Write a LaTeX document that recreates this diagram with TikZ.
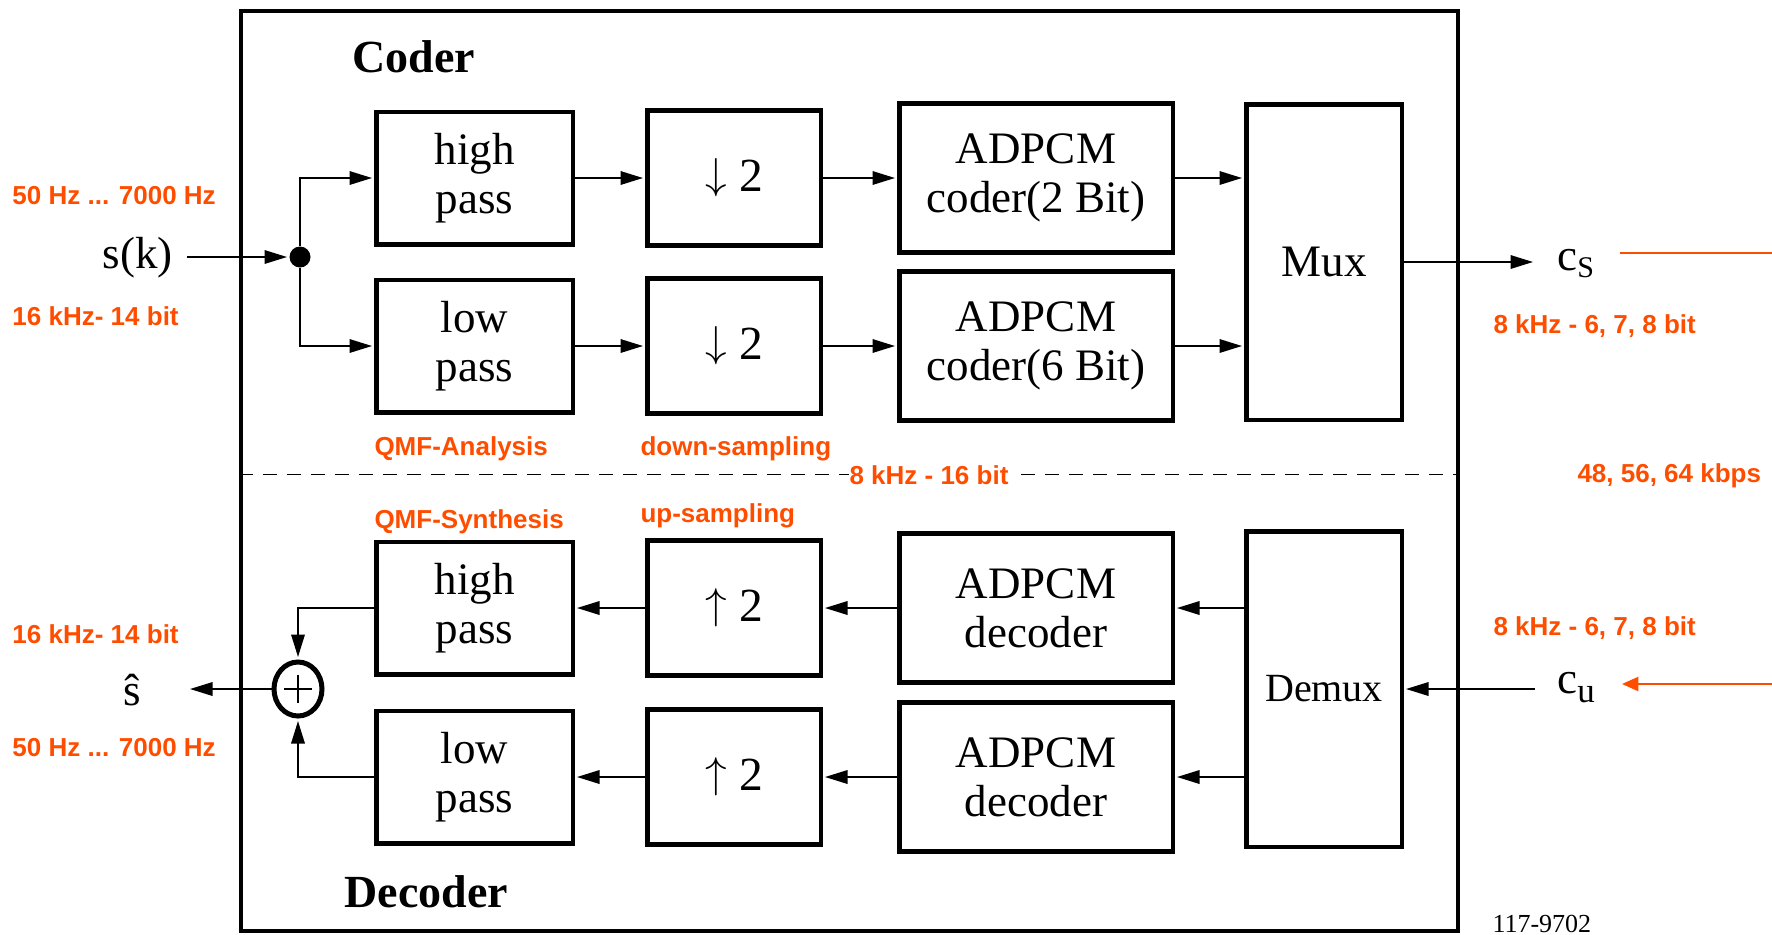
\documentclass[tikz,border=0pt]{standalone}
\usepackage{fontspec}
\setmainfont{Liberation Serif}
\newfontfamily\lsans{Liberation Sans}
\usetikzlibrary{arrows.meta,shapes.geometric}
\definecolor{org}{RGB}{255,77,0}
\begin{document}
\begin{tikzpicture}[x=0.4pt,y=-0.4pt,
  box/.style={draw,line width=1.8pt,inner sep=0pt,align=center,font=\fontsize{18pt}{19.6pt}\selectfont},
  filt/.style={box,minimum width=78.6pt,minimum height=53pt},
  rate/.style={box,minimum width=69.4pt,minimum height=54pt},
  adp/.style={box,minimum width=109.4pt,minimum height=59.6pt},
  mx/.style={box,minimum width=62.2pt,minimum height=126.2pt},
  conn/.style={line width=0.7pt},
  arr/.style={conn,-{Triangle[length=9pt,width=5.4pt]},shorten >=0.8pt},
  lbl/.style={text=org,font=\lsans\bfseries\fontsize{10.4pt}{12pt}\selectfont,inner sep=0pt,anchor=base west},
  sig/.style={font=\fontsize{18pt}{19.6pt}\selectfont,inner ysep=0pt},
  ttl/.style={font=\bfseries\fontsize{18.4pt}{20pt}\selectfont,inner sep=0pt,anchor=base west}
]
\useasboundingbox (0,0) rectangle (1772,934);

% frame
\node[draw,line width=1.8pt,minimum width=486.8pt,minimum height=368pt,inner sep=0pt] (frame) at (849.5,471) {};
\node[ttl] (coder) at (352,72) {Coder};
\node[ttl] (decoder) at (344,907) {Decoder};

% coder
\node[filt] (hp1) at (474.5,178) {high\\pass};
\node[rate] (ds1) at (734,178) {$\downarrow$\;\raisebox{-1pt}{\fontsize{19pt}{20pt}\selectfont 2}};
\node[adp] (co1) at (1036,178) {ADPCM\\coder(2 Bit)};
\node[filt] (lp1) at (474.5,346) {low\\pass};
\node[rate] (ds2) at (734,346) {$\downarrow$\;\raisebox{-1pt}{\fontsize{19pt}{20pt}\selectfont 2}};
\node[adp] (co2) at (1036,346) {ADPCM\\coder(6 Bit)};
\node[mx] (mux) at (1324,262) {Mux};

% decoder
\node[filt] (hp2) at (474.5,608) {high\\pass};
\node[rate] (us1) at (734,608) {$\uparrow$\;\raisebox{-1pt}{\fontsize{19pt}{20pt}\selectfont 2}};
\node[adp] (de1) at (1036,608) {ADPCM\\decoder};
\node[filt] (lp2) at (474.5,777) {low\\pass};
\node[rate] (us2) at (734,777) {$\uparrow$\;\raisebox{-1pt}{\fontsize{19pt}{20pt}\selectfont 2}};
\node[adp] (de2) at (1036,777) {ADPCM\\decoder};
\node[mx,font=\fontsize{16pt}{18pt}\selectfont] (demux) at (1324,689) {Demux};

% signals
\node[circle,fill,inner sep=0pt,minimum size=8.4pt] (dot) at (300,257) {};
\node[sig,anchor=base east,inner xsep=5.6pt] (sk) at (187,268) {s(k)};
\node[sig,anchor=base west,inner xsep=8.8pt] (cs) at (1535,270) {c\raisebox{-2.8pt}{\fontsize{12pt}{14pt}\selectfont S}};
\node[sig,anchor=base west,inner xsep=8.8pt] (cu) at (1535,693) {c\raisebox{-3.6pt}{\fontsize{14pt}{16pt}\selectfont u}};
\node[ellipse,draw,line width=2pt,minimum width=19.2pt,minimum height=21.6pt,inner sep=0pt] (add) at (298,689) {};
\node[sig,anchor=base east,inner xsep=18.4pt] (shat) at (188,705) {ŝ};
\draw[conn] ([xshift=-5.6pt]add.center) -- ([xshift=5.6pt]add.center);
\draw[conn] ([yshift=-5.6pt]add.center) -- ([yshift=5.6pt]add.center);

% coder connectors
\draw[arr] (sk.east |- dot) -- (dot);
\draw[arr] (dot) |- (hp1.west);
\draw[arr] (dot) |- (lp1.west);
\draw[arr] (hp1.east) -- (ds1.west);
\draw[arr] (ds1.east) -- (co1.west);
\draw[arr] (lp1.east) -- (ds2.west);
\draw[arr] (ds2.east) -- (co2.west);
\draw[arr] (co1.east) -- (co1.east -| mux.west);
\draw[arr] (co2.east) -- (co2.east -| mux.west);
\draw[arr] (mux.east) -- (mux.east -| cs.west);

% decoder connectors
\draw[arr] (cu.west |- demux.east) -- (demux.east);
\draw[arr] (de1.east -| demux.west) -- (de1.east);
\draw[arr] (de2.east -| demux.west) -- (de2.east);
\draw[arr] (de1.west) -- (us1.east);
\draw[arr] (de2.west) -- (us2.east);
\draw[arr] (us1.west) -- (hp2.east);
\draw[arr] (us2.west) -- (lp2.east);
\draw[arr,shorten >=1pt] (hp2.west) -| (add.north);
\draw[arr,shorten >=1pt] (lp2.west) -| (add.south);
\draw[arr] (add.west) -- (add.west -| shat.east);

% orange external lines
\coordinate (csA) at (1620,253);
\coordinate (csB) at (1772,253);
\draw[org,line width=0.8pt] (csA) -- (csB);
\coordinate (cuA) at (1772,684);
\coordinate (cuB) at (1622,684);
\draw[org,line width=0.8pt,-{Triangle[length=6.5pt,width=5.6pt]}] (cuA) -- (cuB);

% dashed separator with rate label
\node[lbl] (r16) at (849,484) {8 kHz - 16 bit};
\draw[line width=0.6pt,dash pattern=on 5.6pt off 4pt] (frame.west |- r16.west) -- (r16.west);
\draw[line width=0.6pt,dash pattern=on 5.6pt off 4pt] ([xshift=5pt]r16.east) -- (frame.east |- r16.east);

% orange labels
\node[lbl] (inHz) at (12,204) {50 Hz ... 7000 Hz};
\node[lbl] (inBit) at (12,325) {16 kHz- 14 bit};
\node[lbl] (outBit) at (12,643) {16 kHz- 14 bit};
\node[lbl] (outHz) at (12,756) {50 Hz ... 7000 Hz};
\node[lbl] (csRate) at (1493,333) {8 kHz - 6, 7, 8 bit};
\node[lbl] (cuRate) at (1493,635) {8 kHz - 6, 7, 8 bit};
\node[lbl] (kbps) at (1577,482) {48, 56, 64 kbps};
\node[lbl] (qa) at (374,455) {QMF-Analysis};
\node[lbl] (dsl) at (640,455) {down-sampling};
\node[lbl] (qs) at (374,528) {QMF-Synthesis};
\node[lbl] (usl) at (640,522) {up-sampling};

\node[font=\fontsize{10.4pt}{12pt}\selectfont,inner sep=0pt,anchor=base west] (fig) at (1492,932) {117-9702};
\end{tikzpicture}
\end{document}
